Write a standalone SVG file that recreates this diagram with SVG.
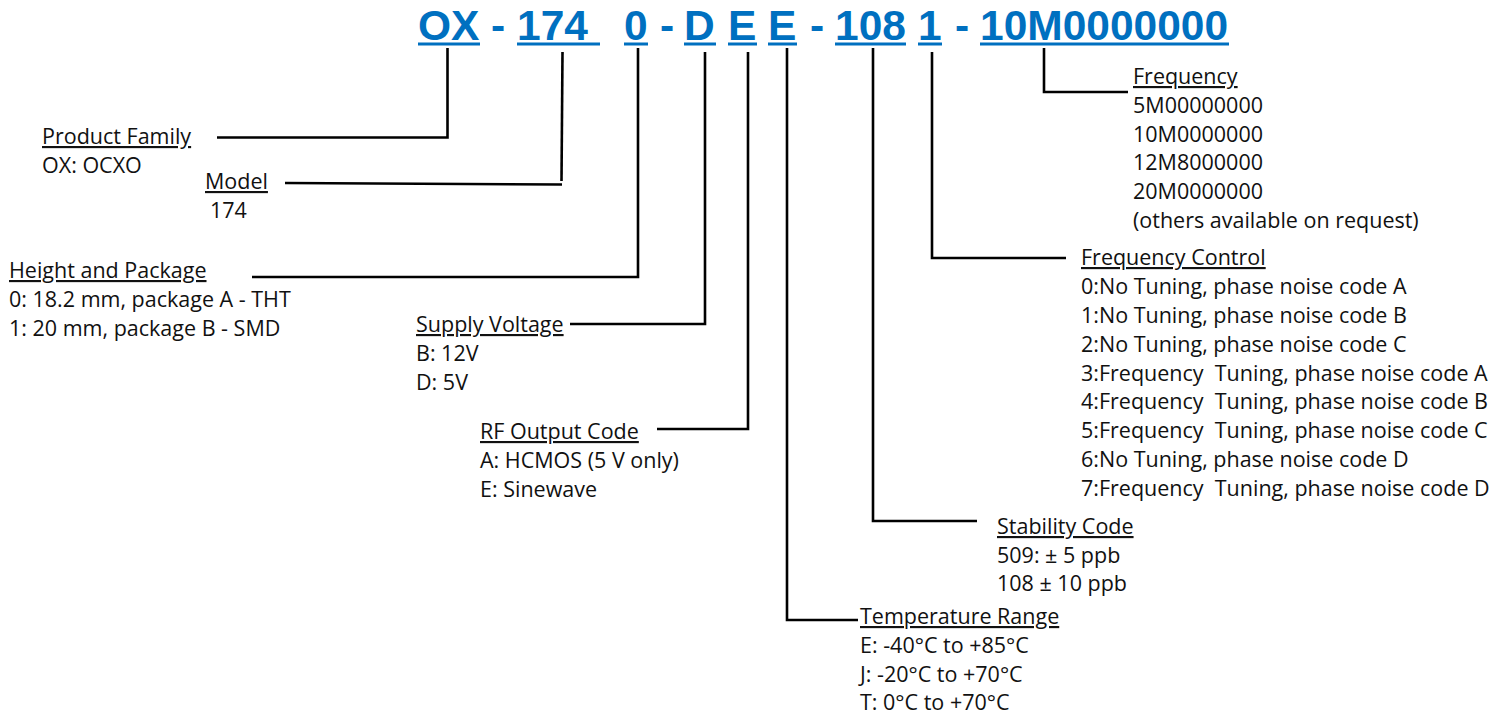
<svg xmlns="http://www.w3.org/2000/svg" width="1502" height="715" viewBox="0 0 1502 715">
<style>
.t{font-family:"Liberation Sans",Arial,sans-serif;font-weight:bold;font-size:42.5px;fill:#0070C0}
.ul{fill:#0070C0}
.b{font-family:"Open Sans","Noto Sans",sans-serif;font-size:21.5px;fill:#111}
.h{text-decoration:underline}
.c{fill:none;stroke:#000;stroke-width:2.6}
</style>
<rect width="1502" height="715" fill="#fff"/>
<g id="title">
<text class="t" x="418" y="40">OX</text>
<text class="t" x="491" y="40">-</text>
<text class="t" x="517" y="40">174</text>
<text class="t" x="624" y="40">0</text>
<text class="t" x="660" y="40">-</text>
<text class="t" x="684" y="40">D</text>
<text class="t" x="728" y="40">E</text>
<text class="t" x="768" y="40">E</text>
<text class="t" x="810" y="40">-</text>
<text class="t" x="835" y="40">108</text>
<text class="t" x="918" y="40">1</text>
<text class="t" x="955" y="40">-</text>
<text class="t" x="980" y="40">10M0000000</text>
<rect class="ul" x="418" y="42.5" width="62" height="3"/>
<rect class="ul" x="517" y="42.5" width="83" height="3"/>
<rect class="ul" x="624" y="42.5" width="24" height="3"/>
<rect class="ul" x="684" y="42.5" width="32" height="3"/>
<rect class="ul" x="728" y="42.5" width="29" height="3"/>
<rect class="ul" x="768" y="42.5" width="29" height="3"/>
<rect class="ul" x="835" y="42.5" width="71" height="3"/>
<rect class="ul" x="918" y="42.5" width="24" height="3"/>
<rect class="ul" x="980" y="42.5" width="249" height="3"/>
</g>
<g id="connectors">
<path class="c" d="M217,137.5 H447.5 V48"/>
<path class="c" d="M285,183 L562,184.5"/>
<path class="c" d="M562.5,52 L561.5,181"/>
<path class="c" d="M252,277 H638 V48"/>
<path class="c" d="M570,324 H705 V52"/>
<path class="c" d="M657,429 H748 V52"/>
<path class="c" d="M858,620 H787 V48"/>
<path class="c" d="M977,521 H873 V48"/>
<path class="c" d="M1066,258 H932 V52"/>
<path class="c" d="M1128,92 H1044 V48"/>
</g>
<g id="product-family">
<text class="b" x="42" y="144"><tspan class="h">Product Family</tspan></text>
<text class="b" x="42" y="173">OX: OCXO</text>
</g>
<g id="model">
<text class="b" x="205" y="189"><tspan class="h">Model</tspan></text>
<text class="b" x="210" y="218">174</text>
</g>
<g id="height-package">
<text class="b" x="9" y="278"><tspan class="h">Height and Package</tspan></text>
<text class="b" x="9" y="307">0: 18.2 mm, package A - THT</text>
<text class="b" x="9" y="336">1: 20 mm, package B - SMD</text>
</g>
<g id="supply-voltage">
<text class="b" x="416" y="332"><tspan class="h">Supply Voltage</tspan></text>
<text class="b" x="416" y="361">B: 12V</text>
<text class="b" x="416" y="390">D: 5V</text>
</g>
<g id="rf-output">
<text class="b" x="480" y="439"><tspan class="h">RF Output Code</tspan></text>
<text class="b" x="480" y="468">A: HCMOS (5 V only)</text>
<text class="b" x="480" y="497">E: Sinewave</text>
</g>
<g id="frequency">
<text class="b" x="1133" y="84"><tspan class="h">Frequency</tspan></text>
<text class="b" x="1133" y="113">5M00000000</text>
<text class="b" x="1133" y="142">10M0000000</text>
<text class="b" x="1133" y="170">12M8000000</text>
<text class="b" x="1133" y="199">20M0000000</text>
<text class="b" x="1133" y="228">(others available on request)</text>
</g>
<g id="frequency-control">
<text class="b" x="1081" y="265"><tspan class="h">Frequency Control</tspan></text>
<text class="b" x="1081" y="294">0:No Tuning, phase noise code A</text>
<text class="b" x="1081" y="323">1:No Tuning, phase noise code B</text>
<text class="b" x="1081" y="352">2:No Tuning, phase noise code C</text>
<text class="b" x="1081" y="381" xml:space="preserve">3:Frequency  Tuning, phase noise code A</text>
<text class="b" x="1081" y="409" xml:space="preserve">4:Frequency  Tuning, phase noise code B</text>
<text class="b" x="1081" y="438" xml:space="preserve">5:Frequency  Tuning, phase noise code C</text>
<text class="b" x="1081" y="467">6:No Tuning, phase noise code D</text>
<text class="b" x="1081" y="496" xml:space="preserve">7:Frequency  Tuning, phase noise code D</text>
</g>
<g id="stability">
<text class="b" x="997" y="534"><tspan class="h">Stability Code</tspan></text>
<text class="b" x="997" y="563">509: ± 5 ppb</text>
<text class="b" x="997" y="591">108 ± 10 ppb</text>
</g>
<g id="temperature">
<text class="b" x="860" y="624"><tspan class="h">Temperature Range</tspan></text>
<text class="b" x="860" y="653">E: -40°C to +85°C</text>
<text class="b" x="860" y="682">J: -20°C to +70°C</text>
<text class="b" x="860" y="710">T: 0°C to +70°C</text>
</g>
</svg>
